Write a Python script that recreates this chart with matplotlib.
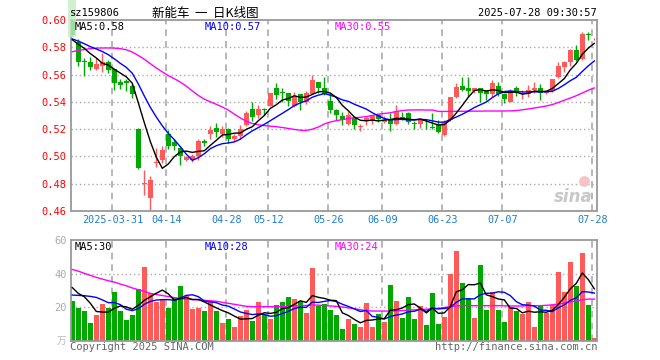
import matplotlib
matplotlib.use('Agg')
import matplotlib.pyplot as plt
import numpy as np
import pandas as pd
from matplotlib.patches import Rectangle, Circle

# ---------------- data ----------------
dates = ['03-20','03-21','03-24','03-25','03-26','03-27','03-28','03-31',
         '04-01','04-02','04-03','04-07','04-08','04-09','04-10','04-11','04-14','04-15','04-16','04-17','04-18',
         '04-21','04-22','04-23','04-24','04-25','04-28','04-29','04-30',
         '05-06','05-07','05-08','05-09','05-12','05-13','05-14','05-15','05-16','05-19','05-20','05-21','05-22',
         '05-23','05-26','05-27','05-28','05-29','05-30',
         '06-03','06-04','06-05','06-06','06-09','06-10','06-11','06-12','06-13','06-16','06-17','06-18','06-19',
         '06-20','06-23','06-24','06-25','06-26','06-27','06-30',
         '07-01','07-02','07-03','07-04','07-07','07-08','07-09','07-10','07-11','07-14','07-15','07-16','07-17',
         '07-18','07-21','07-22','07-23','07-24','07-25','07-28']

opens = [0.6000,0.5838,0.5700,0.5694,0.5642,0.5665,0.5694,0.5643,0.5542,0.5550,0.5517,0.5203,0.4800,0.4698,
         0.4955,0.4971,0.5161,0.5105,0.5063,0.4975,0.4975,0.5001,0.5111,0.5162,0.5206,0.5162,0.5204,0.5126,
         0.5150,0.5227,0.5351,0.5301,0.5343,0.5370,0.5505,0.5470,0.5462,0.5372,0.5456,0.5400,0.5458,0.5542,
         0.5500,0.5405,0.5340,0.5300,0.5236,0.5279,0.5218,0.5260,0.5270,0.5302,0.5255,0.5265,0.5238,0.5290,
         0.5321,0.5243,0.5240,0.5262,0.5212,0.5227,0.5156,0.5266,0.5432,0.5514,0.5500,0.5476,0.5498,0.5481,
         0.5457,0.5518,0.5456,0.5402,0.5505,0.5458,0.5461,0.5486,0.5500,0.5465,0.5476,0.5580,0.5658,0.5690,
         0.5781,0.5714,0.5897,0.5860]
highs = [0.6020,0.5862,0.5720,0.5727,0.5720,0.5755,0.5705,0.5645,0.5565,0.5567,0.5534,0.5205,0.4903,0.4853,
         0.5063,0.5080,0.5194,0.5130,0.5075,0.5000,0.5018,0.5130,0.5130,0.5225,0.5245,0.5222,0.5206,0.5165,
         0.5228,0.5330,0.5400,0.5375,0.5358,0.5465,0.5535,0.5505,0.5465,0.5475,0.5460,0.5480,0.5599,0.5545,
         0.5585,0.5462,0.5350,0.5325,0.5326,0.5282,0.5235,0.5296,0.5301,0.5310,0.5300,0.5315,0.5377,0.5328,
         0.5328,0.5259,0.5280,0.5272,0.5321,0.5264,0.5264,0.5436,0.5540,0.5585,0.5584,0.5505,0.5500,0.5485,
         0.5560,0.5542,0.5461,0.5493,0.5518,0.5486,0.5522,0.5542,0.5530,0.5481,0.5570,0.5690,0.5702,0.5789,
         0.5818,0.5911,0.5911,0.5870]
lows = [0.5880,0.5665,0.5591,0.5633,0.5635,0.5616,0.5615,0.5490,0.5495,0.5478,0.5431,0.4910,0.4718,0.4595,
        0.4925,0.4950,0.5055,0.5050,0.4935,0.4965,0.4960,0.4975,0.5075,0.5130,0.5145,0.5141,0.5100,0.5112,
        0.5125,0.5222,0.5258,0.5285,0.5305,0.5368,0.5420,0.5400,0.5372,0.5360,0.5342,0.5385,0.5455,0.5468,
        0.5450,0.5315,0.5268,0.5230,0.5232,0.5198,0.5185,0.5227,0.5240,0.5255,0.5245,0.5188,0.5230,0.5270,
        0.5240,0.5198,0.5210,0.5200,0.5198,0.5173,0.5150,0.5260,0.5427,0.5478,0.5445,0.5468,0.5400,0.5412,
        0.5432,0.5440,0.5395,0.5400,0.5445,0.5420,0.5432,0.5463,0.5412,0.5456,0.5470,0.5575,0.5616,0.5665,
        0.5700,0.5705,0.5850,0.5855]
closes = [0.5890,0.5695,0.5690,0.5658,0.5677,0.5694,0.5630,0.5535,0.5520,0.5538,0.5456,0.4915,0.4808,0.4829,
          0.4962,0.5050,0.5075,0.5076,0.5001,0.4993,0.5004,0.5110,0.5100,0.5197,0.5180,0.5198,0.5130,0.5148,
          0.5203,0.5316,0.5292,0.5350,0.5340,0.5463,0.5449,0.5466,0.5405,0.5442,0.5402,0.5463,0.5559,0.5500,
          0.5460,0.5340,0.5305,0.5268,0.5301,0.5230,0.5222,0.5284,0.5293,0.5272,0.5264,0.5238,0.5330,0.5285,
          0.5250,0.5240,0.5264,0.5258,0.5210,0.5181,0.5255,0.5433,0.5512,0.5490,0.5480,0.5500,0.5468,0.5458,
          0.5535,0.5458,0.5420,0.5481,0.5462,0.5463,0.5486,0.5505,0.5462,0.5470,0.5567,0.5665,0.5690,0.5781,
          0.5707,0.5899,0.5893,0.5863]
volumes = [23.8,19.8,17.8,10.9,15.4,22.0,19.8,29.1,17.8,12.5,15.4,30.9,44.2,28.3,23.0,24.9,19.6,25.3,32.7,
           26.7,19.0,19.8,17.8,24.0,17.8,10.9,13.1,8.3,15.0,18.4,11.9,23.2,15.4,13.1,21.4,23.2,26.1,24.9,23.8,
           16.6,43.4,21.0,21.8,18.4,15.4,7.1,13.1,10.1,8.3,22.6,8.3,16.0,11.3,33.3,23.8,13.7,26.1,13.1,21.0,
           9.5,28.5,10.1,14.3,39.8,53.5,34.5,25.5,13.7,45.1,18.4,29.1,18.4,11.3,20.2,17.8,16.0,23.2,8.3,21.4,
           16.6,21.4,41.0,29.1,46.9,32.7,52.3,21.4,1.8]

# closes / volumes of the sessions just before the window (feed the first MA points)
pre_close = [0.586,0.588,0.587,0.585,0.588,0.586,0.584,0.585,0.5835]
pre_volume = [21.8,19.8,14.9,21.4,36.6,36.8,27.8,30.4,39.7]

ma30_price = [0.5768,0.5776,0.5784,0.5790,0.5794,0.5795,0.5795,0.5794,0.5790,0.5782,0.5765,0.5740,0.5712,
              0.5680,0.5648,0.5620,0.5592,0.5570,0.5545,0.5515,0.5480,0.5447,0.5420,0.5400,0.5382,0.5362,
              0.5340,0.5310,0.5282,0.5258,0.5242,0.5232,0.5226,0.5222,0.5218,0.5212,0.5205,0.5198,0.5192,
              0.5190,0.5200,0.5215,0.5238,0.5252,0.5262,0.5270,0.5278,0.5284,0.5287,0.5292,0.5300,0.5310,
              0.5315,0.5320,0.5330,0.5336,0.5340,0.5341,0.5341,0.5340,0.5340,0.5330,0.5330,0.5330,0.5331,
              0.5331,0.5332,0.5332,0.5332,0.5333,0.5333,0.5333,0.5333,0.5334,0.5336,0.5342,0.5348,0.5355,
              0.5362,0.5370,0.5380,0.5395,0.5412,0.5428,0.5445,0.5465,0.5485,0.5502]
ma30_volume = [42.5,41.5,40.2,39.0,37.8,36.8,35.8,35.0,33.8,32.8,31.5,30.5,29.5,28.3,27.6,27.0,26.4,25.8,
               25.3,24.9,24.6,24.4,24.2,23.9,23.6,23.0,22.4,21.8,21.2,20.6,20.4,20.4,20.4,20.4,20.4,20.4,
               20.6,20.8,21.0,21.1,21.4,21.3,21.0,20.8,20.6,20.2,19.7,19.2,18.6,18.1,17.8,17.8,17.8,17.8,
               17.9,18.1,18.4,18.5,18.7,18.9,19.1,19.4,19.9,20.4,20.8,21.0,21.0,21.0,21.0,21.0,21.0,21.0,
               20.9,20.8,20.8,20.8,21.0,21.0,21.0,21.2,21.5,22.0,22.5,23.2,23.8,24.5,24.9,24.9]

tick_keys = ['03-31','04-14','04-28','05-12','05-26','06-09','06-23','07-07','07-28']
tick_labels = ['2025-03-31','04-14','04-28','05-12','05-26','06-09','06-23','07-07','07-28']
price_ticks = [0.46,0.48,0.50,0.52,0.54,0.56,0.58,0.60]
vol_ticks = [20,40,60]

# ---------------- style ----------------
RED = '#ff5a5a'
GREEN = '#00a800'
MONO = 'DejaVu Sans Mono'
CJK = ['Noto Sans CJK SC', 'DejaVu Sans']
GRID = '#aaaaaa'
SPINE = '#999999'
W, H = 660, 360

def fx(px):
    return px / W

def fy(py):
    return 1 - py / H

fig = plt.figure(figsize=(6.6, 3.6), dpi=100)
fig.patch.set_facecolor('white')

ax = fig.add_axes([fx(70.7), fy(211), fx(596.7) - fx(70.7), fy(20) - fy(211)])
axv = fig.add_axes([fx(70.7), fy(341), fx(596.7) - fx(70.7), fy(240) - fy(341)])

n = len(closes)
x = np.arange(n)
o = np.array(opens); c = np.array(closes); hi = np.array(highs); lo = np.array(lows)
v = np.array(volumes)
up = c >= o
cols = [RED if u else GREEN for u in up]

cs = pd.Series(pre_close + closes)
ma5 = cs.rolling(5).mean().values[len(pre_close):]
ma10 = cs.rolling(10).mean().values[len(pre_close):]
vs = pd.Series(pre_volume + volumes)
vma5 = vs.rolling(5).mean().values[len(pre_volume):]
vma10 = vs.rolling(10).mean().values[len(pre_volume):]

tick_pos = [dates.index(k) - 0.33 for k in tick_keys]

for a in (ax, axv):
    a.set_xlim(-0.27, 87.4)
    for s in a.spines.values():
        s.set_color(SPINE)
        s.set_linewidth(1.3)
    for tp in tick_pos:
        a.axvline(tp, color=GRID, lw=1.2, ls=(0, (4, 3)), zorder=0)
    a.tick_params(length=0)

# soft highlight behind the first (partly hidden) candle, as in the reference
fig.patches.append(Rectangle((fx(68), fy(37)), fx(8), fy(0) - fy(37), transform=fig.transFigure,
                             facecolor='#c6ebc6', edgecolor='none', alpha=0.8, zorder=0))

# price panel
ax.set_ylim(0.46, 0.6)
ax.patch.set_alpha(0)
for p in price_ticks[1:-1]:
    ax.axhline(p, color=GRID, lw=1.0, ls=(0, (1, 2)), zorder=0)
ax.vlines(x, lo, hi, colors=cols, lw=1.0, zorder=2)
body_h = np.maximum(np.abs(c - o), 0.0004)
ax.bar(x, body_h, bottom=np.minimum(o, c), width=0.78, color=cols, lw=0, zorder=3)
ax.plot(x, ma30_price, color='#ff00ff', lw=1.0, zorder=4)
ax.plot(x, ma10, color='#0000ff', lw=1.0, zorder=4)
ax.plot(x, ma5, color='black', lw=1.0, zorder=5)
ax.set_yticks(price_ticks)
ax.set_yticklabels([f'{p:.2f}' for p in price_ticks], color='#ff0000', family=MONO, fontsize=7.5)
ax.tick_params(axis='y', pad=3)
ax.set_xticks(tick_pos)
ax.set_xticklabels(tick_labels, color='#1e7fd0', family=MONO, fontsize=7.3)
ax.tick_params(axis='x', pad=3)

# sina watermark (eye drawn as a marker)
ax.scatter([0.975], [0.155], s=60, color='#f6c4c4', transform=ax.transAxes, zorder=1, lw=0, clip_on=False)
ax.text(0.955, 0.075, 'sina', transform=ax.transAxes, fontsize=12, fontweight='bold', fontstyle='italic',
        color='#c8c8c8', ha='center', va='center', family='DejaVu Sans', zorder=1)

# volume panel
axv.set_ylim(0, 60)
for p in vol_ticks[:-1]:
    axv.axhline(p, color=GRID, lw=1.0, ls=(0, (1, 2)), zorder=0)
axv.bar(x, v, width=0.8, color=cols, lw=0, zorder=2)
axv.plot(x, ma30_volume, color='#ff00ff', lw=1.0, zorder=4)
axv.plot(x, vma10, color='#0000ff', lw=1.0, zorder=4)
axv.plot(x, vma5, color='black', lw=1.0, zorder=5)
axv.set_yticks(vol_ticks)
axv.set_yticklabels([str(t) for t in vol_ticks], color='#aaaaaa', family=MONO, fontsize=7.5)
axv.tick_params(axis='y', pad=3)
axv.set_xticks([])

# texts
fig.text(fx(70), fy(13), 'sz159806', family=MONO, fontsize=7.5, va='center', ha='left')
fig.text(fx(205), fy(13), '新能车  一  日K线图', family=CJK, fontsize=9, va='center', ha='center')
fig.text(fx(597), fy(13), '2025-07-28 09:30:57', family=MONO, fontsize=7.5, va='center', ha='right')

fig.text(fx(75), fy(27), f'MA5:{ma5[-1]:.2f}', family=MONO, fontsize=7.5, va='center', color='black')
fig.text(fx(205), fy(27), f'MA10:{ma10[-1]:.2f}', family=MONO, fontsize=7.5, va='center', color='#0000ff')
fig.text(fx(335), fy(27), f'MA30:{ma30_price[-1]:.2f}', family=MONO, fontsize=7.5, va='center', color='#ff00ff')

fig.text(fx(75), fy(247), 'MA5:30', family=MONO, fontsize=7.5, va='center', color='black')
fig.text(fx(205), fy(247), 'MA10:28', family=MONO, fontsize=7.5, va='center', color='#0000ff')
fig.text(fx(335), fy(247), 'MA30:24', family=MONO, fontsize=7.5, va='center', color='#ff00ff')

fig.text(fx(66), fy(341), '万', family=CJK, fontsize=7, va='center', ha='right', color='#bbbbbb')
fig.text(fx(70), fy(347), 'Copyright 2025 SINA.COM', family=MONO, fontsize=7.5, va='center', ha='left',
         color='#666666')
fig.text(fx(597), fy(347), 'http://finance.sina.com.cn', family=MONO, fontsize=7.5, va='center', ha='right',
         color='#666666')

fig.savefig('out.png', dpi=100)
